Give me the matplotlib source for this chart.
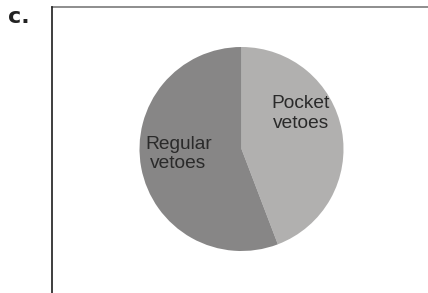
import matplotlib
matplotlib.use("Agg")
import matplotlib.pyplot as plt
from matplotlib.lines import Line2D

labels = ["Pocket\nvetoes", "Regular\nvetoes"]
values = [44.2, 55.8]
colors = ["#b1b0af", "#878686"]
label_pos = [(0.58, 0.35), (-0.62, -0.05)]

W, H = 428, 293
fig = plt.figure(figsize=(W / 100, H / 100), dpi=100)
fig.patch.set_facecolor("white")

cx, cy, r = 241.5, 149.0, 102.0
ax = fig.add_axes([(cx - r) / W, 1 - (cy + r) / H, 2 * r / W, 2 * r / H])
ax.pie(values, colors=colors, startangle=90, counterclock=False,
       wedgeprops=dict(linewidth=0), radius=1.0)
ax.set_xlim(-1, 1)
ax.set_ylim(-1, 1)
ax.axis("off")
for lab, (x, y) in zip(labels, label_pos):
    ax.text(x, y, lab, ha="center", va="center", fontsize=13.8,
            family="Liberation Sans", color="#2a2a2a", linespacing=1.2)

# frame lines
fig.add_artist(Line2D([52 / W, 1.0], [1 - 7 / H, 1 - 7 / H],
                      transform=fig.transFigure, color="#7a7a7a", lw=1.2))
fig.add_artist(Line2D([52 / W, 52 / W], [1 - 7 / H, 0.0],
                      transform=fig.transFigure, color="#1e1e1e", lw=1.2))

fig.text(8 / W, 1 - 17 / H, "c.", fontsize=16, fontweight="bold",
         family="DejaVu Sans", color="#222222", ha="left", va="center")

fig.savefig("out.png", dpi=100)
